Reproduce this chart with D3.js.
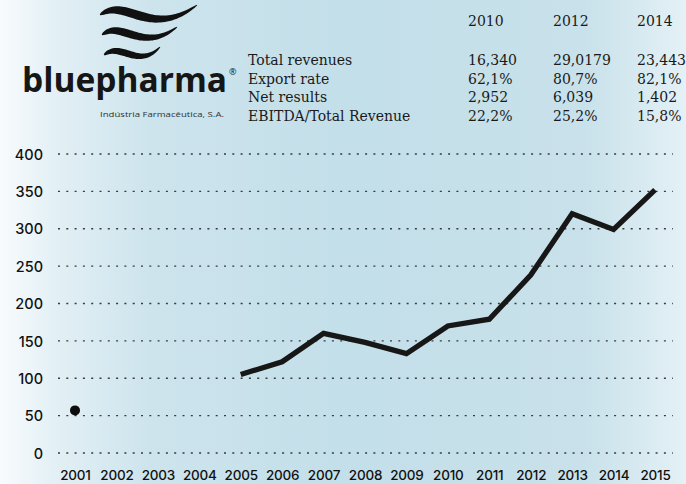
<!DOCTYPE html>
<html>
<head>
<meta charset="utf-8">
<script src="https://cdn.jsdelivr.net/npm/d3@7"></script>
<style>
  html, body { margin: 0; padding: 0; background: #fff; }
  svg { display: block; }
</style>
</head>
<body>
<div id="chart"></div>
<script>
// ---- data ----
const years = ["2001","2002","2003","2004","2005","2006","2007","2008","2009","2010","2011","2012","2013","2014","2015"];
const singlePoint = [{ year: "2001", value: 57 }];
const lineYears = ["2005","2006","2007","2008","2009","2010","2011","2012","2013","2014","2015"];
const lineValues = [105, 122, 160, 148, 133, 170, 179, 238, 320, 299, 352];
const yTicks = [0, 50, 100, 150, 200, 250, 300, 350, 400];

const tableYears = ["2010", "2012", "2014"];
const tableRows = ["Total revenues", "Export rate", "Net results", "EBITDA/Total Revenue"];
const tableValues2010 = ["16,340", "62,1%", "2,952", "22,2%"];
const tableValues2012 = ["29,0179", "80,7%", "6,039", "25,2%"];
const tableValues2014 = ["23,443", "82,1%", "1,402", "15,8%"];

const W = 686, H = 484;
const svg = d3.select("#chart").append("svg").attr("width", W).attr("height", H);

// background gradient
const defs = svg.append("defs");
const grad = defs.append("linearGradient").attr("id", "bg").attr("x1", "0").attr("x2", "1").attr("y1", "0").attr("y2", "0");
[[0, "#f8fbfd"], [0.08, "#e3f0f5"], [0.22, "#cde4ed"], [0.5, "#c3dfe9"], [0.85, "#c8e1ea"], [1, "#e4f1f6"]]
  .forEach(([o, c]) => grad.append("stop").attr("offset", o).attr("stop-color", c));
svg.append("rect").attr("width", W).attr("height", H).attr("fill", "url(#bg)");

// ---- scales ----
const x = d3.scalePoint().domain(years).range([75, 655]);
const y = d3.scaleLinear().domain([0, 400]).range([453, 154]);

// gridlines
const grid = svg.append("g").attr("class", "grid");
grid.selectAll("line").data(yTicks).join("line")
  .attr("x1", 58).attr("x2", 673)
  .attr("y1", d => y(d)).attr("y2", d => y(d))
  .attr("stroke", "#3a3a3a").attr("stroke-width", 1.3)
  .attr("stroke-dasharray", "2,6.3");

// y axis labels
const yAxis = d3.axisLeft(y).tickValues(yTicks).tickSize(0).tickPadding(0);
const yg = svg.append("g").attr("transform", "translate(43,0)").call(yAxis);
yg.select(".domain").remove();
yg.selectAll("text").attr("font-family", "Inter, 'Noto Sans', sans-serif").attr("font-size", 14.5)
  .attr("font-weight", 500).attr("fill", "#111").attr("dy", "0.36em");

// x axis labels
const xAxis = d3.axisBottom(x).tickSize(0).tickPadding(0);
const xg = svg.append("g").attr("transform", "translate(0,470)").call(xAxis);
xg.select(".domain").remove();
xg.selectAll("text").attr("font-family", "Inter, 'Noto Sans', sans-serif").attr("font-size", 13.5)
  .attr("font-weight", 500).attr("fill", "#111").attr("dy", "0.71em").attr("letter-spacing", "-0.2");

// line
const lineData = lineYears.map((yr, i) => ({ year: yr, value: lineValues[i] }));
svg.append("path").datum(lineData)
  .attr("fill", "none").attr("stroke", "#171717").attr("stroke-width", 5.3)
  .attr("stroke-linejoin", "miter")
  .attr("d", d3.line().x(d => x(d.year)).y(d => y(d.value)));

svg.selectAll("circle.pt").data(singlePoint).join("circle").attr("class", "pt")
  .attr("cx", d => x(d.year)).attr("cy", d => y(d.value)).attr("r", 5).attr("fill", "#0d0d0d");

// ---- table ----
const serif = "'DejaVu Serif', 'Liberation Serif', serif";
const colX = [468, 553, 637];
const tbl = svg.append("g").attr("font-family", serif).attr("fill", "#1a1a1a").attr("font-size", 14);
tbl.selectAll("text.hdr").data(tableYears).join("text").attr("class", "hdr")
  .attr("x", (d, i) => colX[i]).attr("y", 26).text(d => d);
const rowY = [65, 84, 102, 121];
tbl.selectAll("text.lbl").data(tableRows).join("text").attr("class", "lbl")
  .attr("x", 248).attr("y", (d, i) => rowY[i]).text(d => d);
[tableValues2010, tableValues2012, tableValues2014].forEach((col, c) => {
  tbl.selectAll("text.v" + c).data(col).join("text").attr("class", "v" + c)
    .attr("x", colX[c]).attr("y", (d, i) => rowY[i]).text(d => d);
});

// ---- logo ----
const logo = svg.append("g");
function bez(p0, p1, p2, p3, t) {
  const u = 1 - t;
  return [
    u*u*u*p0[0] + 3*u*u*t*p1[0] + 3*u*t*t*p2[0] + t*t*t*p3[0],
    u*u*u*p0[1] + 3*u*u*t*p1[1] + 3*u*t*t*p2[1] + t*t*t*p3[1]
  ];
}
function wave(p0, p1, p2, p3, w) {
  const N = 50, top = [], bot = [];
  for (let i = 0; i <= N; i++) {
    const t = i / N;
    const a = bez(p0, p1, p2, p3, Math.max(0, t - 0.01));
    const b = bez(p0, p1, p2, p3, Math.min(1, t + 0.01));
    const c = bez(p0, p1, p2, p3, t);
    let dx = b[0] - a[0], dy = b[1] - a[1];
    const L = Math.hypot(dx, dy) || 1;
    const nx = -dy / L, ny = dx / L;
    const th = w * Math.pow(Math.sin(Math.PI * Math.pow(t, 0.8)), 0.7) / 2 + 0.4;
    top.push([c[0] + nx * th, c[1] + ny * th]);
    bot.push([c[0] - nx * th, c[1] - ny * th]);
  }
  return "M" + top.concat(bot.reverse()).map(p => p.join(",")).join("L") + "Z";
}
logo.append("path").attr("fill", "#111").attr("d", wave([100, 15], [126, -4], [150, 40], [197, 5], 8));
logo.append("path").attr("fill", "#111").attr("d", wave([102, 35], [121, 19], [142, 54], [177, 27], 7));
logo.append("path").attr("fill", "#111").attr("d", wave([104, 55], [121, 41], [138, 70], [160, 47], 6));

const brand = logo.append("text").attr("x", 22).attr("y", 92)
  .attr("font-family", "'Open Sans', Lato, sans-serif").attr("font-weight", 700)
  .attr("font-size", 33.5).attr("fill", "#161616");
brand.append("tspan").text("bluepharma");
brand.append("tspan").attr("dx", 2).attr("dy", -17).attr("font-size", 9).attr("font-weight", 400).text("®");
logo.append("text").attr("x", 100).attr("y", 117)
  .attr("font-family", "'Open Sans', sans-serif").attr("font-size", 7.5).attr("fill", "#333")
  .attr("textLength", 124).attr("lengthAdjust", "spacingAndGlyphs")
  .text("Indústria Farmacêutica, S.A.");
</script>
</body>
</html>
